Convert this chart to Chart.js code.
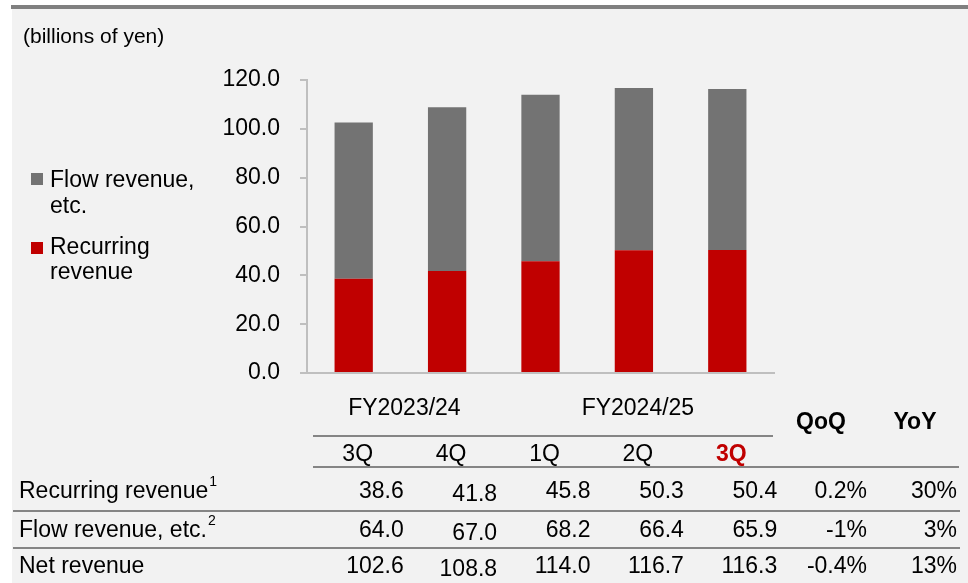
<!DOCTYPE html>
<html>
<head>
<meta charset="utf-8">
<script src="https://cdn.jsdelivr.net/npm/chart.js@4.4.1/dist/chart.umd.min.js"></script>
<style>
  html, body { margin: 0; padding: 0; background: #ffffff; }
  #wrap { position: relative; width: 968px; height: 583px; }
</style>
</head>
<body>
<div id="wrap"><canvas id="grafico" width="968" height="583"></canvas></div>
<script>
// dados (bilhões de ienes)
const quarters = ['3Q', '4Q', '1Q', '2Q', '3Q']
const fiscalYears = ['FY2023/24', 'FY2024/25']
const fiscalSpan = [[0, 1], [2, 4]]
const recurring = [38.6, 41.8, 45.8, 50.3, 50.4]
const flow = [64.0, 67.0, 68.2, 66.4, 65.9]
const netRevenue = [102.6, 108.8, 114.0, 116.7, 116.3]
const qoq = ['0.2%', '-1%', '-0.4%']
const yoy = ['30%', '3%', '13%']
const rowLabels = ['Recurring revenue', 'Flow revenue, etc.', 'Net revenue']
const rowNotes = ['1', '2', '']
const yTicks = [0, 20, 40, 60, 80, 100, 120]

const FONT = '"Liberation Sans", Arial, sans-serif'
const SIZE = 23
const RED = '#c00000'
const GRAY = '#737373'

const fmt = v => v.toFixed(1)

// fundo, título, legenda e tabela desenhados por cima do gráfico
const painelPlugin = {
  id: 'painel',
  beforeDraw(chart) {
    const c = chart.ctx
    c.save()
    c.fillStyle = '#ffffff'
    c.fillRect(0, 0, 968, 583)
    c.fillStyle = '#f2f2f2'
    c.fillRect(12, 9, 956, 574)
    c.fillStyle = '#808080'
    c.fillRect(11, 5, 957, 4)
    c.restore()
  },
  afterDraw(chart) {
    const c = chart.ctx
    const x = chart.scales.x
    const col = i => x.getPixelForValue(i)
    const f = (s, b) => (b ? 'bold ' : '') + s + 'px ' + FONT
    c.save()
    c.textBaseline = 'middle'
    c.fillStyle = '#000'

    // título
    c.font = f(21)
    c.textAlign = 'left'
    c.fillText('(billions of yen)', 23, 37)

    // legenda
    c.font = f(SIZE)
    c.fillStyle = GRAY
    c.fillRect(31, 173, 12, 12)
    c.fillStyle = RED
    c.fillRect(31, 242, 12, 12)
    c.fillStyle = '#000'
    c.fillText('Flow revenue,', 50, 181)
    c.fillText('etc.', 50, 207)
    c.fillText('Recurring', 50, 248)
    c.fillText('revenue', 50, 273)

    // cabeçalho da tabela
    c.textAlign = 'center'
    fiscalYears.forEach((fy, k) => {
      const [a, b] = fiscalSpan[k]
      c.fillText(fy, (col(a) + col(b)) / 2 + 4, 409)
    })
    quarters.forEach((q, i) => {
      const last = i === quarters.length - 1
      c.font = f(SIZE, last)
      c.fillStyle = last ? RED : '#000'
      c.fillText(q, col(i) + 4, 455)
    })
    c.fillStyle = '#000'
    c.font = f(SIZE, true)
    c.fillText('QoQ', 821, 423)
    c.fillText('YoY', 915, 423)

    // linhas
    c.strokeStyle = '#858585'
    c.lineWidth = 2
    const line = (x1, x2, y) => { c.beginPath(); c.moveTo(x1, y); c.lineTo(x2, y); c.stroke() }
    line(313, 773, 436)
    line(313, 959, 467)
    line(13, 960, 511)
    line(13, 960, 548)

    // linhas de dados
    const rows = [recurring, flow, netRevenue]
    const rowY = [492, 531, 567]
    rows.forEach((vals, r) => {
      c.font = f(SIZE)
      c.textAlign = 'left'
      c.fillText(rowLabels[r], 19, rowY[r])
      if (rowNotes[r]) {
        const w = c.measureText(rowLabels[r]).width
        c.font = f(14)
        c.fillText(rowNotes[r], 19 + w + 1, rowY[r] - 10)
        c.font = f(SIZE)
      }
      c.textAlign = 'right'
      vals.forEach((v, i) => {
        const dy = i === 1 ? 3 : 0
        c.fillText(fmt(v), col(i) + 50, rowY[r] + dy)
      })
      c.fillText(qoq[r], 867, rowY[r])
      c.fillText(yoy[r], 957, rowY[r])
    })
    c.restore()
  }
}

const ctx = document.getElementById('grafico')
new Chart(ctx, {
  type: 'bar',
  data: {
    labels: quarters,
    datasets: [
      { label: 'Recurring revenue', data: recurring, backgroundColor: RED },
      { label: 'Flow revenue, etc.', data: flow, backgroundColor: GRAY }
    ]
  },
  options: {
    responsive: false,
    animation: false,
    layout: { padding: { left: 200, right: 194, top: 80, bottom: 210 } },
    plugins: { legend: { display: false }, tooltip: { enabled: false } },
    datasets: { bar: { categoryPercentage: 1, barPercentage: 0.41 } },
    scales: {
      x: {
        stacked: true,
        grid: { display: false },
        ticks: { display: false },
        border: { display: true, color: '#bfbfbf', width: 2 },
        afterFit: s => { s.height = 0 }
      },
      y: {
        stacked: true,
        min: 0,
        max: 120,
        afterBuildTicks: s => { s.ticks = yTicks.map(v => ({ value: v })) },
        afterFit: s => { s.width = 107 },
        grid: { drawOnChartArea: false, drawTicks: true, tickLength: 7, color: '#bfbfbf', lineWidth: 2 },
        border: { display: true, color: '#bfbfbf', width: 2 },
        ticks: {
          padding: 20,
          color: '#000',
          font: { family: FONT, size: SIZE },
          callback: v => fmt(v)
        }
      }
    }
  },
  plugins: [painelPlugin]
})
</script>
</body>
</html>
